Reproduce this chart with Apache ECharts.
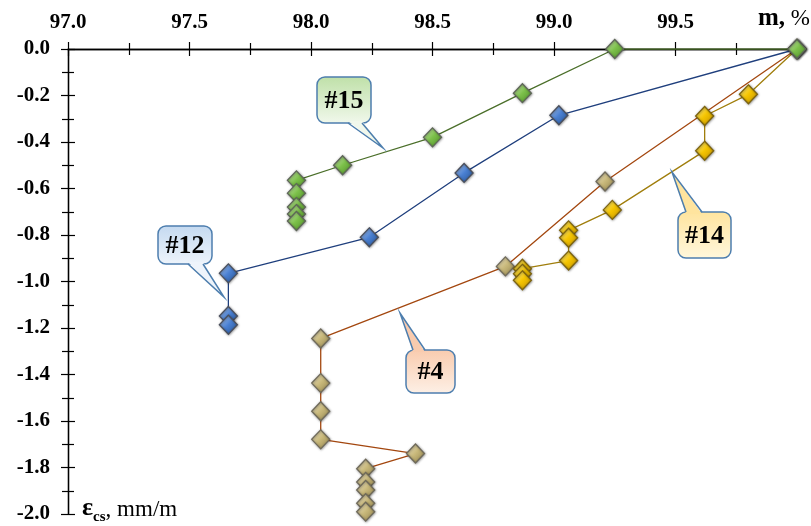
<!DOCTYPE html>
<html><head><meta charset="utf-8">
<script src="https://cdn.jsdelivr.net/npm/echarts@6/dist/echarts.min.js"></script>
<style>html,body{margin:0;padding:0;background:#fff}#c{width:811px;height:526px}</style>
</head><body><div id="c"></div>
<script>
// ---- data (m, % ; eps_cs, mm/m) ----
const s15_m = [100.0, 99.25, 98.87, 98.50, 98.13, 97.94, 97.94, 97.94, 97.94, 97.94];
const s15_e = [0, 0, -0.19, -0.38, -0.50, -0.565, -0.62, -0.68, -0.71, -0.74];
const s12_m = [100.0, 99.02, 98.63, 98.24, 97.66, 97.66, 97.66];
const s12_e = [0, -0.285, -0.533, -0.81, -0.965, -1.148, -1.186];
const s4_m = [100.0, 99.21, 98.80, 98.04, 98.04, 98.04, 98.04, 98.43, 98.225, 98.225, 98.225, 98.225, 98.225];
const s4_e = [0, -0.57, -0.935, -1.245, -1.437, -1.558, -1.679, -1.740, -1.805, -1.862, -1.897, -1.954, -1.99];
const s14_m = [100.0, 99.80, 99.62, 99.62, 99.24, 99.06, 99.06, 99.06, 98.87, 98.87, 98.87];
const s14_e = [0, -0.195, -0.288, -0.438, -0.692, -0.78, -0.812, -0.91, -0.945, -0.967, -0.995];
const seriesNames = ['#4', '#14', '#12', '#15'];
const xTickLabels = ['97.0', '97.5', '98.0', '98.5', '99.0', '99.5'];

const FONT = '"Liberation Serif", "Times New Roman", serif';
const chart = echarts.init(document.getElementById('c'), null, {renderer: 'canvas'});

function pairs(a, b) { return a.map((v, i) => [v, b[i]]); }
function diamondFill(light, mid, dark) {
  return {type: 'linear', x: 0, y: 0, x2: 1, y2: 1,
    colorStops: [{offset: 0, color: light}, {offset: 0.5, color: mid}, {offset: 1, color: dark}]};
}
function mkSeries(name, m, e, lineColor, fill, border, z) {
  return {
    name, type: 'line', data: pairs(m, e), z,
    symbol: 'diamond', symbolSize: [18, 19],
    lineStyle: {color: lineColor, width: 1.3},
    itemStyle: {color: fill, borderColor: border, borderWidth: 1.3,
      shadowColor: 'rgba(0,0,0,0.4)', shadowBlur: 2.5, shadowOffsetX: 0.5, shadowOffsetY: 0.5},
    emphasis: {disabled: true}, animation: false
  };
}

const axisLine = {show: true, lineStyle: {color: '#000', width: 1.3}};
const xBase = {type: 'value', min: 97, max: 100, interval: 0.5, position: 'top',
  axisLine, splitLine: {show: false},
  minorTick: {show: true, splitNumber: 2, length: 6, lineStyle: {color: '#000', width: 1.2}},
  axisTick: {show: true, length: 7, lineStyle: {color: '#000', width: 1.2}}};
const yBase = {type: 'value', min: -2, max: 0, interval: 0.2, position: 'left',
  axisLine, splitLine: {show: false},
  minorTick: {show: true, splitNumber: 2, length: 6, lineStyle: {color: '#000', width: 1.2}},
  axisTick: {show: true, length: 7, lineStyle: {color: '#000', width: 1.2}}};

function callout(label, box, base, tip, top, bot) {
  const [x0, y0, x1, y1] = box;
  const grad = {type: 'linear', x: 0, y: 0, x2: 0, y2: 1,
    colorStops: [{offset: 0, color: top}, {offset: 1, color: bot}]};
  const onTop = tip[1] < y0;
  const by = onTop ? y0 : y1;
  const inside = onTop ? by + 2 : by - 2;
  const ptrColor = onTop ? top : bot;
  const stroke = '#4d7eae';
  return [
    {type: 'rect', shape: {x: x0, y: y0, width: x1 - x0, height: y1 - y0, r: 8},
      style: {fill: grad, stroke, lineWidth: 1.5}, z: 100},
    {type: 'polygon', shape: {points: [[base[0], inside], [tip[0], tip[1]], [base[1], inside]]},
      style: {fill: ptrColor, stroke: null}, z: 101},
    {type: 'polyline', shape: {points: [[base[0], by], [tip[0], tip[1]], [base[1], by]]},
      style: {fill: null, stroke, lineWidth: 1.5}, z: 102},
    {type: 'text', x: (x0 + x1) / 2, y: (y0 + y1) / 2 + 1, z: 103,
      style: {text: label, font: 'bold 26px ' + FONT, fill: '#000', align: 'center', verticalAlign: 'middle'}}
  ];
}

const option = {
  backgroundColor: '#fff',
  animation: false,
  grid: {left: 68, right: 14, top: 49, bottom: 12, containLabel: false},
  xAxis: [
    Object.assign({}, xBase, {axisTick: Object.assign({}, xBase.axisTick, {inside: false}),
      axisLabel: {show: true, margin: 16, fontFamily: FONT, fontWeight: 'bold', fontSize: 21, color: '#000',
        formatter: v => { const i = Math.round((v - 97) / 0.5); return (i >= 0 && i < xTickLabels.length) ? xTickLabels[i] : ''; }}}),
    Object.assign({}, xBase, {axisTick: Object.assign({}, xBase.axisTick, {inside: true}), axisLabel: {show: false}})
  ],
  yAxis: [
    Object.assign({}, yBase, {axisTick: Object.assign({}, yBase.axisTick, {inside: false}),
      axisLabel: {show: true, margin: 18, fontFamily: FONT, fontWeight: 'bold', fontSize: 21, color: '#000',
        formatter: v => v.toFixed(1)}}),
    Object.assign({}, yBase, {axisTick: Object.assign({}, yBase.axisTick, {inside: true}), axisLabel: {show: false}})
  ],
  series: [
    mkSeries(seriesNames[0], s4_m, s4_e, '#a3470f', diamondFill('#f2ead0', '#c8b87a', '#8e7f4c'), '#6f6a5a', 2),
    mkSeries(seriesNames[1], s14_m, s14_e, '#a07e0c', diamondFill('#fff3a0', '#f4c400', '#c08e00'), '#7d6410', 3),
    mkSeries(seriesNames[2], s12_m, s12_e, '#1f3f7d', diamondFill('#b9d2f5', '#4a80d2', '#25518f'), '#4a4f5c', 4),
    mkSeries(seriesNames[3], s15_m, s15_e, '#4b6f2a', diamondFill('#d6efbe', '#7cc04a', '#4b8a26'), '#5e6658', 5)
  ],
  graphic: [
    {type: 'text', right: 1, top: 6, z: 50,
      style: {text: '{b|m,}{n| %}', rich: {b: {font: 'bold 25px ' + FONT, fill: '#000'}, n: {font: '23px ' + FONT, fill: '#000'}}}},
    {type: 'text', left: 82, top: 495, z: 50,
      style: {text: '{e|ε}{s|cs}{n|, mm/m}',
        rich: {e: {font: 'bold 26px ' + FONT, fill: '#000', verticalAlign: 'bottom'},
               s: {font: 'bold 15px ' + FONT, fill: '#000', verticalAlign: 'bottom', padding: [0, 0, -4, 0]},
               n: {font: '23px ' + FONT, fill: '#000', verticalAlign: 'bottom'}}}}
  ].concat(
    callout('#15', [317, 77, 371, 123], [348, 362], [383, 148], '#bfe0a8', '#f1f8ec'),
    callout('#12', [158, 226, 212, 264], [188, 203], [224, 297], '#c4d9f0', '#eef4fb'),
    callout('#14', [678, 212, 731, 258], [686, 702], [672, 172], '#ffe49e', '#fff7dc'),
    callout('#4', [406, 350, 455, 393], [413, 425], [400, 313], '#f9cbae', '#fdf0e6')
  )
};
chart.setOption(option);
</script>
</body></html>
